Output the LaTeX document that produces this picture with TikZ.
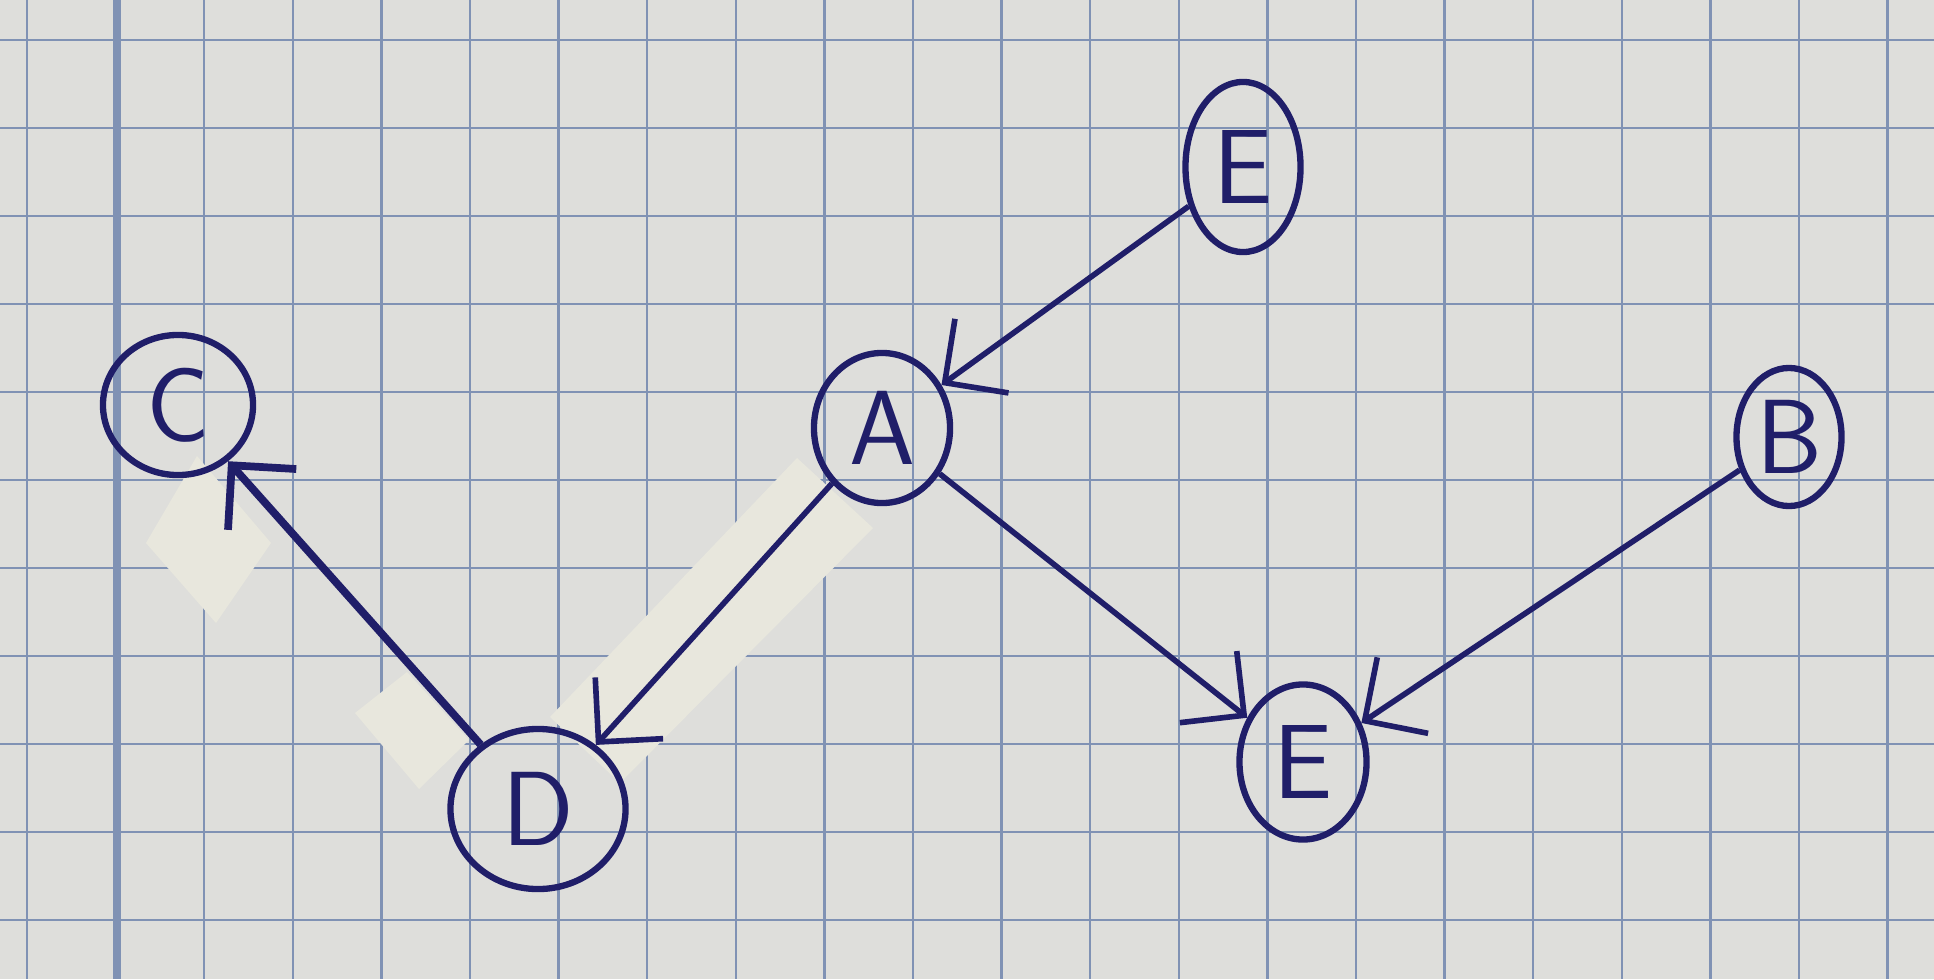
\documentclass[tikz,border=0pt]{standalone}
\usepackage{tikz}
\usetikzlibrary{arrows.meta,shapes.geometric}

\definecolor{paper}{RGB}{222,222,219}
\definecolor{gridline}{RGB}{128,146,180}
\definecolor{ink}{RGB}{32,30,105}
\definecolor{tape}{RGB}{232,231,221}

\tikzset{
    knoten/.style={draw=ink, line width=1.8pt, ellipse, inner sep=0pt, text=ink,
        font=\sffamily\fontsize{30}{34}\selectfont},
    kante/.style={->, draw=ink, line width=1.6pt},
}

\begin{document}
\begin{tikzpicture}[x=0.01cm, y=-0.01cm, >={Straight Barb[length=13pt,width=26pt]}]
%% 纸
\fill [paper] (0, 0) rectangle (1934, 979);
\useasboundingbox (0, 0) rectangle (1934, 979);

%% 方格
\foreach \i in {0,...,21}
{
    \draw [gridline, line width=0.7pt] ({27+88.6*\i}, 0) -- ({27+88.6*\i}, 979);
}
\foreach \j in {0,...,10}
{
    \draw [gridline, line width=0.7pt] (0, {40+88*\j}) -- (1934, {40+88*\j});
}
\draw [gridline, line width=2pt] (117, 0) -- (117, 979);

%% 胶带
\fill [tape] (146, 543) -- (216, 623) -- (271, 543) -- (197, 456) -- cycle;
\fill [tape] (355, 713) -- (419, 789) -- (469, 740) -- (407, 672) -- cycle;
\fill [tape] (550, 717) -- (620, 783) -- (873, 528) -- (797, 458) -- cycle;

%% 结点
\node [knoten, minimum width=1.15cm, minimum height=1.7cm] (E1) at (1243, 167) {E};
\node [knoten, minimum width=1.36cm, minimum height=1.5cm] (A) at (882, 428) {A};
\node [knoten, minimum width=1.5cm, minimum height=1.4cm] (C) at (178, 405) {C};
\node [knoten, minimum width=1.75cm, minimum height=1.6cm] (D) at (538, 809) {D};
\node [knoten, minimum width=1.27cm, minimum height=1.55cm] (E2) at (1303, 762) {E};
\node [knoten, minimum width=1.05cm, minimum height=1.38cm] (B) at (1789, 437) {B};

%% 边
\draw [kante] (E1) -- (A);
\draw [kante] (A) -- (D);
\draw [kante, line width=2.2pt] (D) -- (C);
\draw [kante] (A) -- (E2);
\draw [kante] (B) -- (E2);

\end{tikzpicture}
\end{document}
